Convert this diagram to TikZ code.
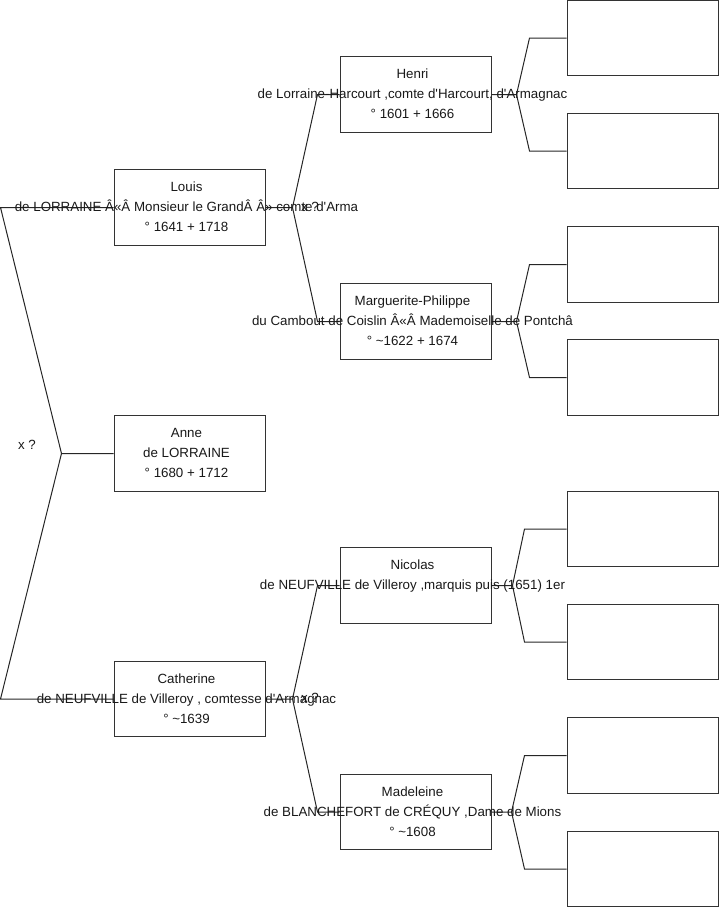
\documentclass[tikz,border=0pt]{standalone}
\usepackage{fontspec}
\newfontfamily\arialfont{Liberation Sans}
\begin{document}
\begin{tikzpicture}[x=1pt,y=-1pt,
  pbox/.style={draw=black!80, line width=1pt, minimum width=151pt, minimum height=75.5pt, inner sep=0pt, fill=white},
  ptxt/.style={font=\arialfont\fontsize{13.33}{20}\selectfont, align=center, inner sep=0pt, text=black!90},
  conn/.style={draw=black!85, line width=1pt}]
\useasboundingbox (0,0) rectangle (719,908);
% generation 1 (left column)
\node[pbox] (louis) at (189.5,207.5) {};
\node[pbox] (anne) at (189.5,453.5) {};
\node[pbox] (cath) at (189.5,699) {};
% generation 2
\node[pbox] (henri) at (415.5,94.5) {};
\node[pbox] (marg) at (415.5,321.5) {};
\node[pbox] (nico) at (415.5,585.5) {};
\node[pbox] (made) at (415.5,812) {};
% generation 3 (empty boxes)
\node[pbox] (g1) at (642.5,38) {};
\node[pbox] (g2) at (642.5,151) {};
\node[pbox] (g3) at (642.5,264.5) {};
\node[pbox] (g4) at (642.5,377.5) {};
\node[pbox] (g5) at (642.5,529) {};
\node[pbox] (g6) at (642.5,642) {};
\node[pbox] (g7) at (642.5,755.5) {};
\node[pbox] (g8) at (642.5,869) {};
% fork coordinates
\coordinate (rF) at ([xshift=-52pt]anne.west);
\coordinate (rA) at ([xshift=-113pt]louis.west);
\coordinate (rB) at ([xshift=-113pt]cath.west);
\coordinate (lF) at ([xshift=27pt]louis.east);
\coordinate (lA) at ([xshift=-22pt]henri.west);
\coordinate (lB) at ([xshift=-22pt]marg.west);
\coordinate (cF) at ([xshift=27pt]cath.east);
\coordinate (cA) at ([xshift=-22pt]nico.west);
\coordinate (cB) at ([xshift=-22pt]made.west);
\coordinate (hF) at ([xshift=25pt]henri.east);
\coordinate (hA) at ([xshift=-37pt]g1.west);
\coordinate (hB) at ([xshift=-37pt]g2.west);
\coordinate (mF) at ([xshift=25pt]marg.east);
\coordinate (mA) at ([xshift=-37pt]g3.west);
\coordinate (mB) at ([xshift=-37pt]g4.west);
\coordinate (nF) at ([xshift=21pt]nico.east);
\coordinate (nA) at ([xshift=-42pt]g5.west);
\coordinate (nB) at ([xshift=-42pt]g6.west);
\coordinate (dF) at ([xshift=20pt]made.east);
\coordinate (dA) at ([xshift=-42pt]g7.west);
\coordinate (dB) at ([xshift=-42pt]g8.west);
% connectors
\draw[conn] (anne.west) -- (rF) -- (rA) -- (louis.west);
\draw[conn] (rF) -- (rB) -- (cath.west);
\draw[conn] (louis.east) -- (lF) -- (lA) -- (henri.west);
\draw[conn] (lF) -- (lB) -- (marg.west);
\draw[conn] (cath.east) -- (cF) -- (cA) -- (nico.west);
\draw[conn] (cF) -- (cB) -- (made.west);
\draw[conn] (henri.east) -- (hF) -- (hA) -- (g1.west);
\draw[conn] (hF) -- (hB) -- (g2.west);
\draw[conn] (marg.east) -- (mF) -- (mA) -- (g3.west);
\draw[conn] (mF) -- (mB) -- (g4.west);
\draw[conn] (nico.east) -- (nF) -- (nA) -- (g5.west);
\draw[conn] (nF) -- (nB) -- (g6.west);
\draw[conn] (made.east) -- (dF) -- (dA) -- (g7.west);
\draw[conn] (dF) -- (dB) -- (g8.west);
% texts
\node[ptxt] (louisT) at ([xshift=-3pt]louis.center) {\rule{0pt}{10pt}Louis\\de LORRAINE Â«Â Monsieur le GrandÂ Â» comte d'Arma\\° 1641 + 1718\rule[-2pt]{0pt}{2pt}};
\node[ptxt] (anneT) at ([xshift=-3pt]anne.center) {\rule{0pt}{10pt}Anne\\de LORRAINE\\° 1680 + 1712\rule[-2pt]{0pt}{2pt}};
\node[ptxt] (cathT) at ([xshift=-3pt]cath.center) {\rule{0pt}{10pt}Catherine\\de NEUFVILLE de Villeroy , comtesse d'Armagnac\\° \textasciitilde1639\rule[-2pt]{0pt}{2pt}};
\node[ptxt] (henriT) at ([xshift=-3pt]henri.center) {\rule{0pt}{10pt}Henri\\de Lorraine-Harcourt ,comte d'Harcourt, d'Armagnac\\° 1601 + 1666\rule[-2pt]{0pt}{2pt}};
\node[ptxt] (margT) at ([xshift=-3pt]marg.center) {\rule{0pt}{10pt}Marguerite-Philippe\\du Cambout de Coislin Â«Â Mademoiselle de Pontchâ\\° \textasciitilde1622 + 1674\rule[-2pt]{0pt}{2pt}};
\node[ptxt] (nicoT) at ([xshift=-3pt]nico.center) {\rule{0pt}{10pt}Nicolas\\de NEUFVILLE de Villeroy ,marquis puis (1651) 1er\\\rule[-2pt]{0pt}{2pt}};
\node[ptxt] (madeT) at ([xshift=-3pt]made.center) {\rule{0pt}{10pt}Madeleine\\de BLANCHEFORT de CRÉQUY ,Dame de Mions\\° \textasciitilde1608\rule[-2pt]{0pt}{2pt}};
% marriage labels
\node[ptxt] (xRoot) at (27,444.5) {x ?};
\node[ptxt] (xLouis) at (310,206.5) {x ?};
\node[ptxt] (xCath) at (310,698) {x ?};
\end{tikzpicture}
\end{document}
